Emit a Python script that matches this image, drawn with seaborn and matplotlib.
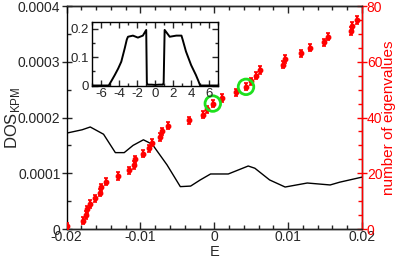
import numpy as np
import pandas as pd
import matplotlib
matplotlib.use("Agg")
import matplotlib.pyplot as plt
import seaborn as sns
from matplotlib.ticker import MultipleLocator

# ---- data ----
dos_E = [-0.0200, -0.0179, -0.0168, -0.0150, -0.0134, -0.0122, -0.0110, -0.0096,
         -0.0084, -0.0064, -0.0046, -0.0032, -0.0019, -0.0005, 0.0019, 0.0046,
         0.0055, 0.0075, 0.0096, 0.0126, 0.0157, 0.0170, 0.0200]
dos_val = [0.000172, 0.000178, 0.000183, 0.000170, 0.000137, 0.000137, 0.000150, 0.000160,
           0.000152, 0.000115, 0.000076, 0.000077, 0.000088, 0.0000987, 0.0000987, 0.000113,
           0.000109, 0.000088, 0.0000753, 0.0000825, 0.000079, 0.000084, 0.000093]

eig_E = [-0.0200, -0.0178, -0.0174, -0.0172, -0.0169, -0.0161, -0.0155, -0.0153,
         -0.0147, -0.0130, -0.0115, -0.0109, -0.0107, -0.0096, -0.0089, -0.0085,
         -0.0074, -0.0071, -0.0062, -0.0034, -0.0015, -0.0010, -0.0002, 0.0011,
         0.0030, 0.0043, 0.0050, 0.0056, 0.0062, 0.0093, 0.0096, 0.0118,
         0.0130, 0.0148, 0.0154, 0.0185, 0.0186, 0.0194]
eig_n = [1, 3, 5, 7, 9, 11, 13, 15, 17, 19, 21, 23, 25, 27, 29, 31, 33, 35, 37,
         39, 41, 43, 45, 47, 49, 51, 53, 55, 57, 59, 61, 63, 65, 67, 69, 71, 73, 75]
eig_err = [1.3] * len(eig_n)

highlight_E = [-0.0002, 0.0043]
highlight_n = [45, 51]

inset_E = [-7.0, -5.15, -4.8, -4.48, -4.1, -3.76, -3.38, -3.15, -3.02, -2.47, -1.92,
           -1.37, -1.0, -0.93, -0.85, -0.4, 0.0, 0.4, 0.85, 0.93, 1.04, 1.6, 2.33,
           2.9, 3.05, 3.4, 3.97, 4.5, 4.75, 4.97, 7.0]
inset_dos = [0.0, 0.0, 0.019, 0.037, 0.060, 0.084, 0.131, 0.162, 0.172, 0.176, 0.169,
             0.176, 0.196, 0.01, 0.003, 0.003, 0.002, 0.003, 0.003, 0.01, 0.196, 0.172,
             0.176, 0.176, 0.16, 0.12, 0.072, 0.037, 0.018, 0.0, 0.0]

main_xticks = [-0.02, -0.01, 0, 0.01, 0.02]
main_xlabels = ["-0.02", "-0.01", "0", "0.01", "0.02"]
left_yticks = [0, 0.0001, 0.0002, 0.0003, 0.0004]
left_ylabels = ["0", "0.0001", "0.0002", "0.0003", "0.0004"]
right_yticks = [0, 20, 40, 60, 80]
inset_xticks = [-6, -4, -2, 0, 2, 4, 6]
inset_yticks = [0, 0.1, 0.2]
inset_ylabels = ["0", "0.1", "0.2"]

# ---- style ----
sns.set_style("ticks")
plt.rcParams['font.family'] = ['Liberation Sans', 'DejaVu Sans']
plt.rcParams['mathtext.fontset'] = 'custom'
plt.rcParams['mathtext.rm'] = 'Liberation Sans'
plt.rcParams['axes.unicode_minus'] = False

RED = '#ff0000'
GREEN = '#1ee01e'

fig = plt.figure(figsize=(3.99, 2.58), dpi=100)
ax = fig.add_axes([0.167, 0.1124, 0.740, 0.8643])
ax2 = ax.twinx()

df_dos = pd.DataFrame({'E': dos_E, 'dos': dos_val})
sns.lineplot(data=df_dos, x='E', y='dos', ax=ax, color='black', lw=1.0)

ax2.errorbar(eig_E, eig_n, yerr=eig_err, fmt='o', color=RED, ms=3.2,
             elinewidth=1.6, capsize=1.2, capthick=1.2, mec=RED, mfc=RED, zorder=3)
ax2.scatter(highlight_E, highlight_n, s=125, facecolors='none', edgecolors=GREEN,
            linewidths=2.0, zorder=4)

ax.set_xlim(-0.02, 0.02)
ax.set_ylim(0, 0.0004)
ax2.set_ylim(0, 80)

ax.set_xticks(main_xticks)
ax.set_xticklabels(main_xlabels)
ax.set_yticks(left_yticks)
ax.set_yticklabels(left_ylabels)
ax.xaxis.set_minor_locator(MultipleLocator(0.002))
ax.yaxis.set_minor_locator(MultipleLocator(0.00005))
ax2.set_yticks(right_yticks)
ax2.yaxis.set_minor_locator(MultipleLocator(5))

for s in ax.spines.values():
    s.set_linewidth(1.0)
    s.set_color('black')
for s in ax2.spines.values():
    s.set_linewidth(1.0)
ax2.spines['right'].set_color(RED)
ax2.spines['left'].set_visible(False)

ax.tick_params(axis='x', which='major', direction='in', length=5, width=1,
               labelsize=10, top=True, pad=0.5)
ax.tick_params(axis='x', which='minor', direction='in', length=3, width=1, top=True)
ax.tick_params(axis='y', which='major', direction='inout', length=7, width=1,
               labelsize=10, pad=1)
ax.tick_params(axis='y', which='minor', direction='in', length=3, width=1)
ax2.tick_params(axis='y', which='major', direction='inout', length=7, width=1,
                labelsize=10, colors=RED, pad=0)
ax2.tick_params(axis='y', which='minor', direction='in', length=3, width=1, colors=RED)

ax.set_xlabel('E', fontsize=10.5)
ax.xaxis.set_label_coords(0.5, -0.07)
ax.set_ylabel(r'DOS$_{\rm KPM}$', fontsize=12)
ax.yaxis.set_label_coords(-0.152, 0.5)
ax2.set_ylabel('number of eigenvalues', fontsize=11, color=RED)
ax2.yaxis.set_label_coords(1.068, 0.5)

# ---- inset ----
axin = fig.add_axes([0.2306, 0.6686, 0.317, 0.245])
df_in = pd.DataFrame({'E': inset_E, 'dos': inset_dos})
sns.lineplot(data=df_in, x='E', y='dos', ax=axin, color='black', lw=1.4)
axin.set_xlim(-7, 7)
axin.set_ylim(0, 0.223)
axin.set_xticks(inset_xticks)
axin.set_yticks(inset_yticks)
axin.set_yticklabels(inset_ylabels)
axin.xaxis.set_minor_locator(MultipleLocator(1))
axin.yaxis.set_minor_locator(MultipleLocator(0.05))
axin.set_xlabel('')
axin.set_ylabel('')
for s in axin.spines.values():
    s.set_linewidth(1.0)
    s.set_color('black')
axin.tick_params(which='major', direction='in', length=4, width=1, labelsize=9.5,
                 top=True, right=True, pad=2)
axin.tick_params(which='minor', direction='in', length=2.5, width=1, top=True, right=True)

fig.savefig('out.png', dpi=100)
